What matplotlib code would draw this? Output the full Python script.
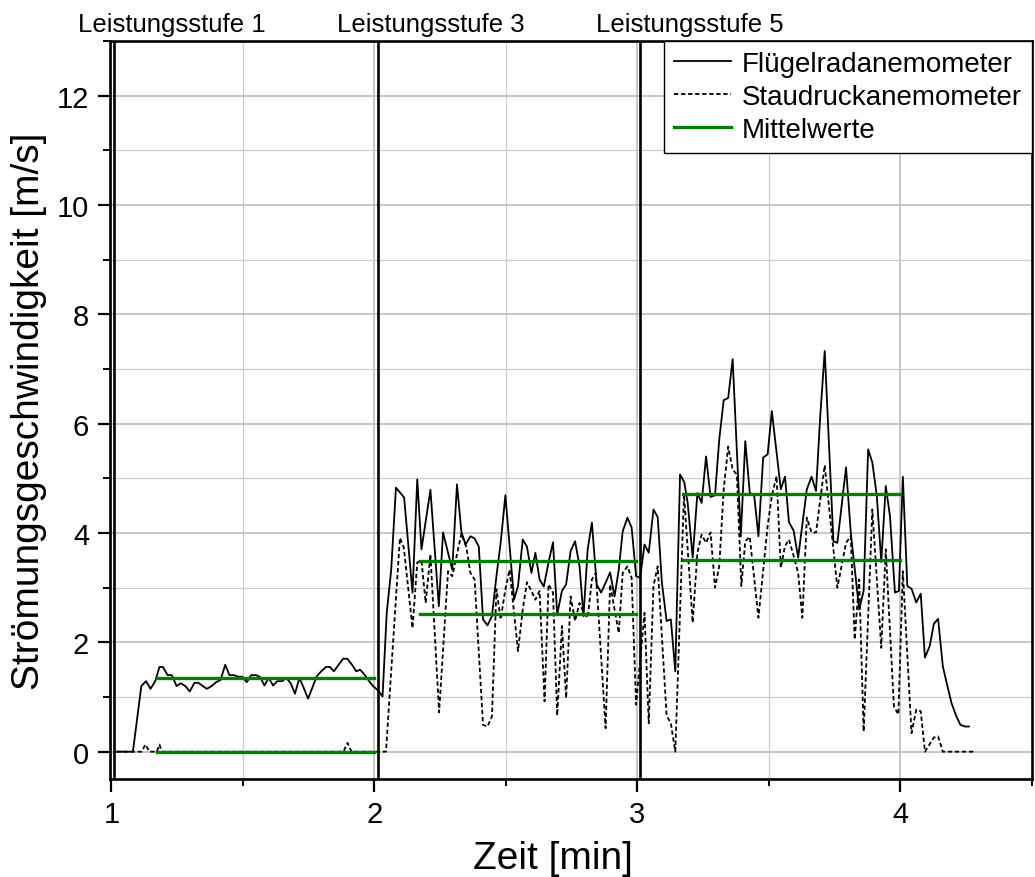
import matplotlib
matplotlib.use('Agg')
import matplotlib.pyplot as plt
from matplotlib.ticker import MultipleLocator

plt.rcParams['font.family'] = ['Liberation Sans', 'DejaVu Sans']

# Flügelradanemometer (time in min, speed in m/s), per power stage
t_fl_1 = [1.020, 1.082, 1.114, 1.132, 1.149, 1.167, 1.183, 1.196, 1.214, 1.230,
          1.248, 1.264, 1.282, 1.298, 1.316, 1.331, 1.348, 1.363, 1.381, 1.398,
          1.415, 1.433, 1.449, 1.467, 1.483, 1.498, 1.515, 1.532, 1.550, 1.565,
          1.582, 1.598, 1.615, 1.631, 1.649, 1.665, 1.682, 1.698, 1.715, 1.731,
          1.748, 1.764, 1.781, 1.798, 1.816, 1.831, 1.846, 1.864, 1.881, 1.897,
          1.915, 1.931, 1.946, 1.964, 1.980, 1.995, 2.014, 2.031]
v_fl_1 = [0, 0, 1.20, 1.29, 1.15, 1.29, 1.55, 1.55, 1.40, 1.40,
          1.20, 1.25, 1.20, 1.10, 1.26, 1.26, 1.20, 1.15, 1.20, 1.27,
          1.31, 1.59, 1.40, 1.40, 1.37, 1.37, 1.27, 1.40, 1.40, 1.37,
          1.21, 1.35, 1.21, 1.29, 1.29, 1.35, 1.25, 1.06, 1.35, 1.17,
          0.97, 1.17, 1.38, 1.47, 1.55, 1.55, 1.47, 1.59, 1.70, 1.70,
          1.59, 1.47, 1.50, 1.40, 1.29, 1.20, 1.12, 1.01]
t_fl_3 = [2.047, 2.064, 2.082, 2.113, 2.145, 2.163, 2.179, 2.213, 2.245, 2.261,
          2.296, 2.314, 2.331, 2.347, 2.365, 2.381, 2.397, 2.413, 2.430, 2.447,
          2.464, 2.480, 2.498, 2.514, 2.531, 2.546, 2.564, 2.580, 2.597, 2.612,
          2.628, 2.644, 2.662, 2.679, 2.695, 2.713, 2.729, 2.746, 2.763, 2.780,
          2.795, 2.811, 2.827, 2.845, 2.862, 2.879, 2.896, 2.913, 2.929, 2.944,
          2.962, 2.978, 2.995, 3.010, 3.027, 3.043, 3.061, 3.077, 3.093, 3.111,
          3.127, 3.144]
v_fl_3 = [2.54, 3.33, 4.83, 4.65, 2.91, 4.98, 3.70, 4.79, 2.66, 4.01,
          3.33, 4.89, 4.01, 3.79, 3.94, 3.90, 3.75, 2.42, 2.31, 2.48,
          3.21, 3.82, 4.69, 3.76, 2.78, 3.03, 3.88, 3.75, 3.27, 3.64,
          3.15, 3.02, 3.46, 3.83, 2.51, 2.94, 3.06, 3.67, 3.85, 3.39,
          2.48, 3.71, 4.19, 3.06, 2.91, 3.09, 3.28, 2.84, 3.33, 4.03,
          4.28, 4.10, 3.21, 3.18, 3.79, 3.64, 4.43, 4.29, 3.09, 2.39,
          2.42, 1.47]
t_fl_5 = [3.162, 3.178, 3.191, 3.210, 3.228, 3.244, 3.261, 3.278, 3.295, 3.311,
          3.328, 3.345, 3.362, 3.393, 3.410, 3.427, 3.444, 3.460, 3.478, 3.495,
          3.511, 3.545, 3.561, 3.576, 3.594, 3.611, 3.644, 3.662, 3.679, 3.695,
          3.712, 3.745, 3.760, 3.793, 3.811, 3.843, 3.860, 3.877, 3.893, 3.910,
          3.927, 3.944, 3.960, 3.979, 3.994, 4.009, 4.026, 4.042, 4.060, 4.077,
          4.093, 4.111, 4.127, 4.143, 4.161, 4.178, 4.194, 4.212, 4.228, 4.245,
          4.260]
v_fl_5 = [5.07, 4.93, 4.55, 3.55, 4.73, 4.55, 5.40, 4.66, 4.69, 5.71,
          6.43, 6.47, 7.18, 3.94, 5.68, 4.74, 4.68, 3.94, 5.38, 5.44,
          6.23, 4.80, 5.03, 4.20, 4.04, 3.55, 4.80, 5.03, 4.77, 6.14,
          7.33, 3.85, 3.82, 5.20, 4.01, 2.60, 2.94, 5.53, 5.29, 4.68,
          3.47, 4.86, 4.31, 2.91, 2.94, 5.03, 3.03, 2.98, 2.73, 2.89,
          1.72, 1.93, 2.34, 2.43, 1.56, 1.21, 0.89, 0.65, 0.49, 0.46,
          0.46]

# Staudruckanemometer
t_st_1 = [1.020, 1.116, 1.129, 1.145, 1.173, 1.183, 1.192, 1.882, 1.898, 1.913, 2.044]
v_st_1 = [0, 0, 0.13, 0, 0, 0.13, 0, 0, 0.16, 0, 0]
t_st_3 = [2.097, 2.112, 2.145, 2.163, 2.179, 2.195, 2.213, 2.246, 2.280, 2.296,
          2.331, 2.350, 2.365, 2.381, 2.413, 2.430, 2.447, 2.464, 2.480, 2.498,
          2.514, 2.546, 2.564, 2.580, 2.597, 2.612, 2.628, 2.647, 2.662, 2.679,
          2.695, 2.713, 2.729, 2.746, 2.763, 2.780, 2.795, 2.811, 2.827, 2.842,
          2.879, 2.896, 2.929, 2.944, 2.962, 2.978, 2.995, 3.027, 3.043, 3.061,
          3.077, 3.111, 3.127, 3.144]
v_st_3 = [3.91, 3.73, 2.26, 3.46, 3.50, 2.72, 3.61, 0.72, 3.30, 3.21,
          3.99, 3.73, 3.27, 3.15, 0.49, 0.46, 0.65, 2.97, 2.42, 2.97,
          3.33, 1.84, 2.60, 3.10, 2.94, 2.78, 2.94, 0.92, 3.06, 2.91,
          0.66, 2.30, 0.98, 2.84, 2.39, 2.72, 2.54, 2.45, 3.15, 3.27,
          0.43, 3.06, 2.17, 3.27, 3.39, 3.18, 0.86, 2.54, 0.52, 3.03,
          3.39, 0.66, 0.52, 0.0]
t_st_5 = [3.177, 3.210, 3.228, 3.244, 3.261, 3.278, 3.295, 3.311, 3.328, 3.345,
          3.362, 3.378, 3.395, 3.410, 3.427, 3.460, 3.495, 3.511, 3.529, 3.545,
          3.561, 3.576, 3.594, 3.611, 3.627, 3.644, 3.662, 3.679, 3.712, 3.760,
          3.793, 3.811, 3.826, 3.843, 3.860, 3.893, 3.927, 3.944, 3.975, 3.992,
          4.009, 4.042, 4.060, 4.077, 4.093, 4.127, 4.143, 4.161, 4.279]
v_st_5 = [4.71, 2.36, 3.64, 3.97, 3.82, 4.01, 3.00, 3.39, 4.80, 5.58,
          5.16, 5.07, 3.03, 3.85, 3.93, 2.45, 4.13, 4.68, 5.04, 3.36,
          3.76, 3.88, 3.58, 3.27, 2.45, 4.28, 4.01, 4.01, 5.24, 3.00,
          3.82, 3.94, 2.05, 3.15, 0.37, 4.43, 1.90, 3.70, 0.83, 0.68,
          3.30, 0.34, 0.77, 0.74, 0.0, 0.26, 0.28, 0.0, 0.0]

# mean values per stage
mean_start = [1.175, 2.173, 3.175]
mean_end = [2.000, 2.996, 3.997]
mean_fl = [1.35, 3.48, 4.71]
mean_st = [0.0, 2.51, 3.50]

stage_switch = [1.010, 2.013, 3.011]
stage_labels = ['Leistungsstufe 1', 'Leistungsstufe 3', 'Leistungsstufe 5']
stage_label_x = [0.875, 1.858, 2.844]

t_fl = t_fl_1 + t_fl_3 + t_fl_5
v_fl = v_fl_1 + v_fl_3 + v_fl_5
t_st = t_st_1 + t_st_3 + t_st_5
v_st = v_st_1 + v_st_3 + v_st_5

fig = plt.figure(figsize=(10.35, 8.78), dpi=100)
ax = fig.add_axes([0.1063, 0.1116, 0.8908, 0.8406])

ax.set_xlim(0.995, 4.5)
ax.set_ylim(-0.5, 13)
ax.xaxis.set_major_locator(MultipleLocator(1))
ax.xaxis.set_minor_locator(MultipleLocator(0.5))
ax.yaxis.set_major_locator(MultipleLocator(2))
ax.yaxis.set_minor_locator(MultipleLocator(1))
ax.grid(True, which='major', color='#b8b8b8', lw=1.1)
ax.grid(True, which='minor', color='#cccccc', lw=0.9)
ax.set_axisbelow(True)

for x in stage_switch:
    ax.axvline(x, color='black', lw=1.9, zorder=2)

ax.plot(t_fl, v_fl, color='black', lw=1.3, label='Flügelradanemometer', zorder=3)
ax.plot(t_st, v_st, color='black', lw=1.3, ls=(0, (2.4, 1.5)),
        label='Staudruckanemometer', zorder=3)
for i in range(len(mean_fl)):
    lab = 'Mittelwerte' if i == 0 else None
    ax.plot([mean_start[i], mean_end[i]], [mean_fl[i], mean_fl[i]],
            color='#008000', lw=2.4, label=lab, zorder=4)
    ax.plot([mean_start[i], mean_end[i]], [mean_st[i], mean_st[i]],
            color='#008000', lw=2.4, zorder=4)

for x, s in zip(stage_label_x, stage_labels):
    ax.text(x, 13.18, s, fontsize=18.5, ha='left', va='baseline', clip_on=False)

for sp in ax.spines.values():
    sp.set_linewidth(1.9)
ax.tick_params(which='major', direction='out', length=9, width=1.6, labelsize=21, pad=6)
ax.tick_params(which='minor', direction='out', length=5, width=1.4)

ax.set_xlabel('Zeit [min]', fontsize=28)
ax.set_ylabel('Strömungsgeschwindigkeit [m/s]', fontsize=28)
ax.yaxis.set_label_coords(-0.068, 0.5)
ax.xaxis.set_label_coords(0.48, -0.083)

leg = ax.legend(loc='upper right', fontsize=20, frameon=True, fancybox=False,
                borderaxespad=0, handlelength=2.05, labelspacing=0.25,
                borderpad=0.36, handletextpad=0.4)
leg.get_frame().set_edgecolor('black')
leg.get_frame().set_linewidth(1.0)
leg.get_frame().set_alpha(1)

fig.savefig('out.png', dpi=100)
